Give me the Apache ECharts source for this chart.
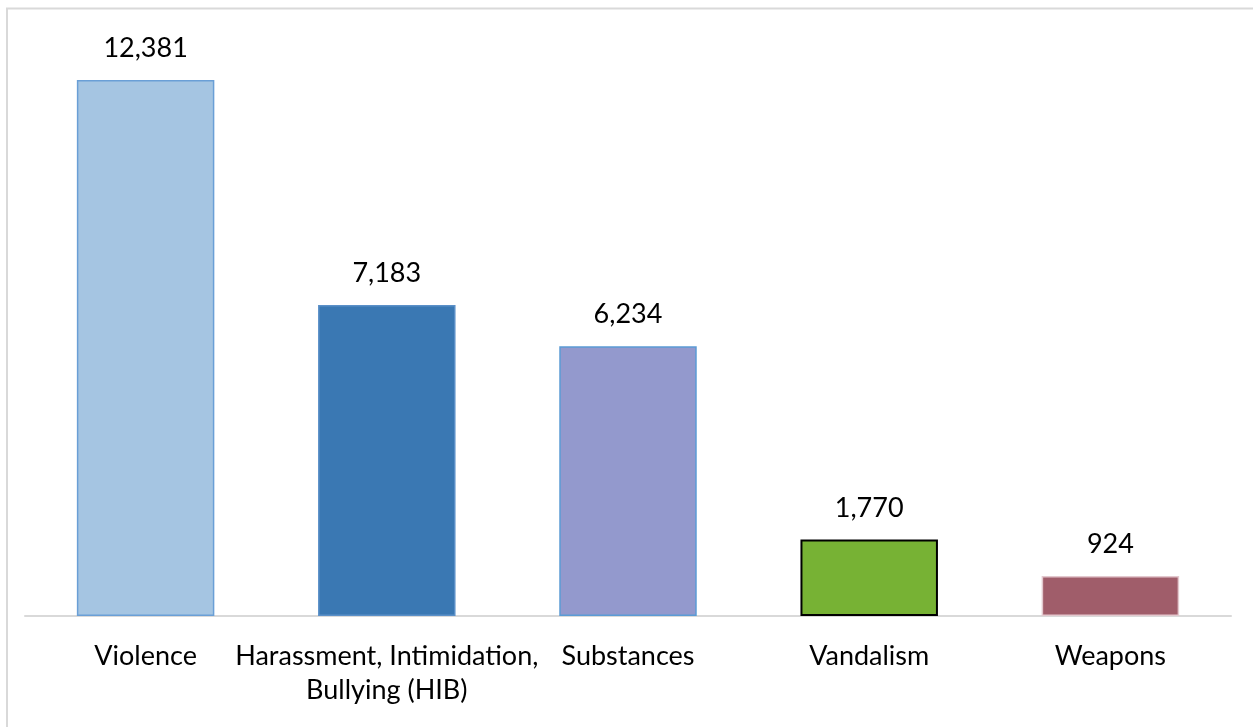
<!DOCTYPE html>
<html>
<head>
<meta charset="utf-8">
<script src="https://cdn.jsdelivr.net/npm/echarts@6/dist/echarts.min.js"></script>
<style>
  html, body { margin: 0; padding: 0; background: #fff; }
  #chart { width: 1253px; height: 727px; }
</style>
</head>
<body>
<div id="chart"></div>
<script>
// Incident categories and their counts
const categories = ['Violence', 'Harassment, Intimidation,\nBullying (HIB)', 'Substances', 'Vandalism', 'Weapons'];
const counts = [12381, 7183, 6234, 1770, 924];
const fillColors = ['#A5C5E2', '#3A78B3', '#9399CD', '#77B234', '#A05D6A'];
const borderColors = ['#6A9FD6', '#5B90C8', '#5B9BD5', '#000000', '#E3C8CE'];

const FONT = 'Lato, "Open Sans", sans-serif';

const chart = echarts.init(document.getElementById('chart'), null, { renderer: 'canvas' });

chart.setOption({
  animation: false,
  backgroundColor: '#ffffff',
  graphic: [{
    type: 'rect',
    shape: { x: 7, y: 8.5, width: 1300, height: 800 },
    style: { fill: 'none', stroke: '#d9d9d9', lineWidth: 2 },
    silent: true
  }],
  grid: { left: 25, right: 22, top: 10, bottom: 111, containLabel: false },
  xAxis: {
    type: 'category',
    data: categories,
    axisLine: { show: true, lineStyle: { color: '#d9d9d9', width: 2 } },
    axisTick: { show: false },
    axisLabel: {
      color: '#000000',
      fontFamily: FONT,
      fontSize: 27,
      lineHeight: 34,
      margin: 23,
      interval: 0
    }
  },
  yAxis: {
    type: 'value',
    min: 0,
    max: 14000,
    show: false,
    splitLine: { show: false }
  },
  series: [{
    type: 'bar',
    barWidth: '57%',
    data: counts.map((v, i) => ({
      value: v,
      itemStyle: { color: fillColors[i], borderColor: borderColors[i], borderWidth: i === 3 ? 2 : 1.5 }
    })),
    label: {
      show: true,
      position: 'top',
      distance: 18,
      color: '#000000',
      fontFamily: FONT,
      fontSize: 27,
      formatter: p => p.value.toLocaleString('en-US')
    }
  }]
});
</script>
</body>
</html>
